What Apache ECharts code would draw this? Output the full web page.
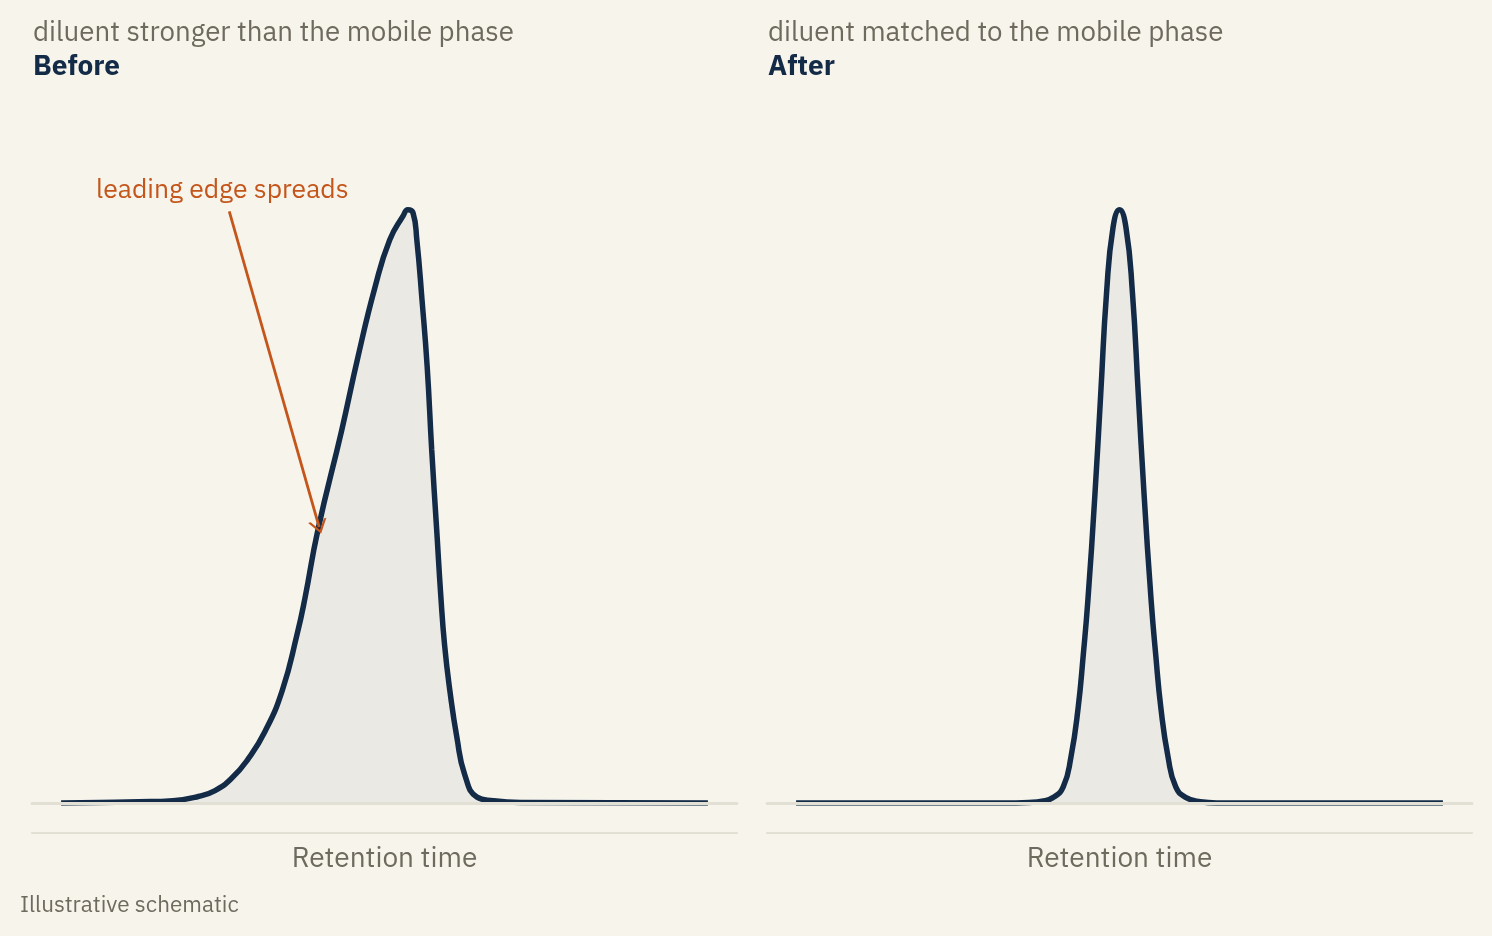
<!DOCTYPE html>
<html>
<head>
<meta charset="utf-8">
<style>
  html, body { margin: 0; padding: 0; background: #f7f4ec; }
  #chart { width: 1492px; height: 936px; }
</style>
<script src="https://cdn.jsdelivr.net/npm/echarts@6/dist/echarts.min.js"></script>
</head>
<body>
<div id="chart"></div>
<script>
// retention time (arbitrary units) and detector signal (normalised)
var beforeTime = [0, 0.6, 1.2, 1.73, 2.12, 2.38, 2.64, 2.89, 3.15, 3.42, 3.65, 3.77, 3.97, 4.34, 4.59, 4.85, 5.08, 5.29, 5.36, 5.44, 5.5, 5.58, 5.66, 5.73, 5.81, 5.87, 5.93, 6.01, 6.12, 6.24, 6.43, 6.68, 7.1, 10];
var beforeSignal = [0, 0.001, 0.002, 0.004, 0.011, 0.021, 0.042, 0.074, 0.12, 0.19, 0.285, 0.345, 0.46, 0.629, 0.752, 0.868, 0.949, 0.99, 1.0, 0.995, 0.949, 0.848, 0.735, 0.595, 0.455, 0.35, 0.265, 0.19, 0.11, 0.048, 0.01, 0.004, 0.001, 0];

var afterTime = [0, 3.2, 3.6, 3.8, 3.97, 4.13, 4.25, 4.36, 4.44, 4.51, 4.62, 4.71, 4.8, 4.9, 5.0, 5.1, 5.2, 5.29, 5.38, 5.49, 5.56, 5.64, 5.75, 5.87, 6.03, 6.25, 6.5, 10];
var afterSignal = [0, 0, 0.001, 0.003, 0.009, 0.027, 0.078, 0.16, 0.25, 0.34, 0.52, 0.69, 0.86, 0.97, 1.0, 0.97, 0.86, 0.69, 0.52, 0.34, 0.25, 0.16, 0.078, 0.027, 0.009, 0.002, 0, 0];

var panelSubtitles = ['diluent stronger than the mobile phase', 'diluent matched to the mobile phase'];
var panelTitles = ['Before', 'After'];
var axisTitle = 'Retention time';
var noteText = 'Illustrative schematic';
var calloutText = 'leading edge spreads';
// arrow from label to the leading edge, in data units
var arrowFrom = [2.6, 0.997];
var arrowTo = [3.99, 0.465];

var navy = '#132b47';
var muted = '#6f6a5e';
var rust = '#c4561b';
var rule = '#e2dfd5';
var font = "'IBM Plex Sans', 'Noto Sans', sans-serif";

function pairs(xs, ys) {
  return xs.map(function (x, i) { return [x, ys[i]]; });
}

var grids = [
  { left: 32, width: 705, top: 180, bottom: 133 },
  { left: 767, width: 705, top: 180, bottom: 133 }
];

var xAxes = [];
var yAxes = [];
[0, 1].forEach(function (g) {
  // baseline rule, drawn over the trace
  xAxes.push({
    type: 'value', gridIndex: g, min: -0.45, max: 10.45, z: 5,
    axisLine: { show: true, onZero: false, lineStyle: { color: rule, width: 3 } },
    axisTick: { show: false }, axisLabel: { show: false }, splitLine: { show: false }
  });
  // lower rule with the axis title
  xAxes.push({
    type: 'value', gridIndex: g, min: -0.45, max: 10.45, offset: 30,
    position: 'bottom',
    name: axisTitle, nameLocation: 'middle', nameGap: 12,
    nameTextStyle: { color: muted, fontSize: 28, fontFamily: font, verticalAlign: 'top' },
    axisLine: { show: true, onZero: false, lineStyle: { color: rule, width: 2 } },
    axisTick: { show: false }, axisLabel: { show: false }, splitLine: { show: false }
  });
  yAxes.push({
    type: 'value', gridIndex: g, min: 0, max: 1.05, show: false,
    splitLine: { show: false }
  });
});

var peakStyle = {
  type: 'line', smooth: 0.5, showSymbol: false, silent: true,
  lineStyle: { color: navy, width: 5.5 },
  areaStyle: { color: 'rgba(19,41,75,0.07)' }
};

var series = [
  Object.assign({}, peakStyle, {
    xAxisIndex: 0, yAxisIndex: 0,
    data: pairs(beforeTime, beforeSignal),
    markLine: {
      silent: true, animation: false,
      symbol: ['none', 'path://M0,10 L5,0 L10,10 L8.6,10 L5,2.9 L1.4,10 Z'],
      symbolSize: [19, 14],
      label: { show: false },
      lineStyle: { color: rust, width: 2.8, type: 'solid' },
      data: [[{ coord: arrowFrom }, { coord: arrowTo }]]
    }
  }),
  Object.assign({}, peakStyle, {
    xAxisIndex: 2, yAxisIndex: 1,
    data: pairs(afterTime, afterSignal)
  })
];

var graphic = [];
[0, 1].forEach(function (g) {
  var x = g === 0 ? 33 : 768;
  graphic.push({
    type: 'text', left: x, top: 19,
    style: { text: panelSubtitles[g], fill: muted, font: '27.7px ' + font }
  });
  graphic.push({
    type: 'text', left: x, top: 53,
    style: { text: panelTitles[g], fill: navy, font: 'bold 28px ' + font }
  });
});
graphic.push({
  type: 'text', left: 96, top: 177,
  style: { text: calloutText, fill: rust, font: '26.5px ' + font }
});
graphic.push({
  type: 'text', left: 20, top: 894,
  style: { text: noteText, fill: muted, font: '22.5px ' + font }
});

var chart = echarts.init(document.getElementById('chart'));
chart.setOption({
  backgroundColor: '#f7f4ec',
  animation: false,
  grid: grids,
  xAxis: xAxes,
  yAxis: yAxes,
  series: series,
  graphic: graphic
});
</script>
</body>
</html>
